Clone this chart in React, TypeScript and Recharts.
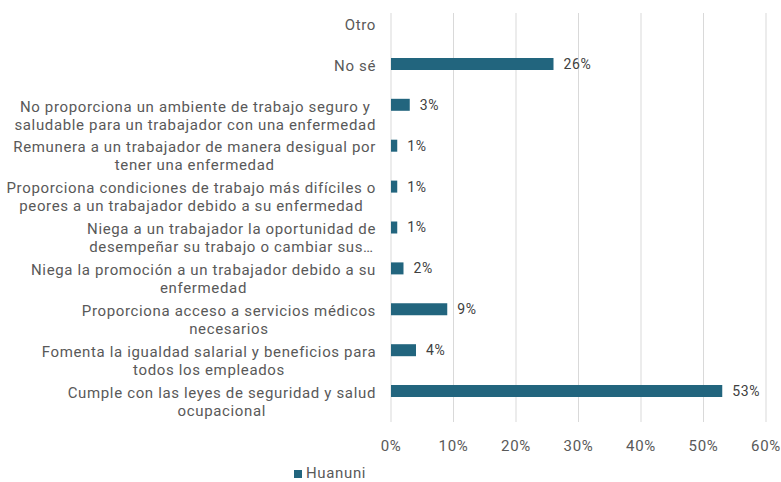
import React from 'react';
import { BarChart, Bar, XAxis, YAxis, CartesianGrid, Legend, LabelList } from 'recharts';

// Categories, top to bottom (line breaks as wrapped in the original)
const categories = [
  'Otro',
  'No sé',
  'No proporciona un ambiente de trabajo seguro y\nsaludable para un trabajador con una enfermedad',
  'Remunera a un trabajador de manera desigual por\ntener una enfermedad',
  'Proporciona condiciones de trabajo más difíciles o\npeores a un trabajador debido a su enfermedad',
  'Niega a un trabajador la oportunidad de\ndesempeñar su trabajo o cambiar sus…',
  'Niega la promoción a un trabajador debido a su\nenfermedad',
  'Proporciona acceso a servicios médicos\nnecesarios',
  'Fomenta la igualdad salarial y beneficios para\ntodos los empleados',
  'Cumple con las leyes de seguridad y salud\nocupacional',
];

// Huanuni, percent of answers
const huanuni = [null, 26, 3, 1, 1, 1, 2, 9, 4, 53];

// second (hidden) series of the source workbook
const hidden = [null, null, null, null, null, null, null, null, null, null];

const xTicks = [0, 10, 20, 30, 40, 50, 60];

const data = categories.map((name, i) => ({ name, huanuni: huanuni[i], hidden: hidden[i] }));

const BAR_COLOR = '#22657e';
const TEXT_COLOR = '#595959';
const FONT = 'Roboto, sans-serif';
const FONT_SIZE = 15;
const SPACING = 0.65;

let measureCtx: CanvasRenderingContext2D | null = null;
const measure = (s: string) => {
  if (!measureCtx) {
    measureCtx = document.createElement('canvas').getContext('2d');
  }
  if (!measureCtx) return s.length * 7.5;
  measureCtx.font = `${FONT_SIZE}px ${FONT}`;
  return measureCtx.measureText(s).width + s.length * SPACING;
};

// wrapped category label: lines centred on each other, block right-aligned at the axis,
// first line always sits above the band centre
const WrappedTick = (props: any) => {
  const { x, y, payload } = props;
  const lines = String(payload.value).split('\n');
  const blockWidth = Math.max(...lines.map(measure));
  const cx = x - blockWidth / 2;
  return (
    <g>
      {lines.map((line, i) => (
        <text
          key={i}
          x={cx}
          y={y - 9 + i * 18}
          dy="0.35em"
          textAnchor="middle"
          fill={TEXT_COLOR}
          fontSize={FONT_SIZE}
          fontFamily={FONT}
          letterSpacing={SPACING}
        >
          {line}
        </text>
      ))}
    </g>
  );
};

export default function App() {
  return (
    <div style={{ position: 'absolute', left: 0, top: 0, width: 781, height: 482, background: '#fff' }}>
      <BarChart
        width={781}
        height={482}
        data={data}
        layout="vertical"
        margin={{ top: 13, right: 15, left: 0, bottom: 2 }}
        barCategoryGap={4}
        barGap={9}
      >
        <CartesianGrid horizontal={false} stroke="#d9d9d9" />
        <XAxis
          type="number"
          domain={[0, 60]}
          ticks={xTicks}
          tickFormatter={(v) => `${v}%`}
          axisLine={false}
          tickLine={false}
          tickMargin={12}
          height={40}
          tick={{ fill: TEXT_COLOR, fontSize: FONT_SIZE, fontFamily: FONT, letterSpacing: SPACING }}
        />
        <YAxis
          type="category"
          dataKey="name"
          width={391}
          axisLine={false}
          tickLine={false}
          tickSize={6}
          tickMargin={9}
          interval={0}
          tick={<WrappedTick />}
        />
        <Legend
          verticalAlign="bottom"
          align="left"
          iconType="square"
          iconSize={8}
          wrapperStyle={{ left: 294, bottom: 0, fontFamily: FONT, fontSize: FONT_SIZE, letterSpacing: SPACING }}
          formatter={(value) => <span style={{ color: TEXT_COLOR }}>{value}</span>}
        />
        <Bar dataKey="huanuni" name="Huanuni" fill={BAR_COLOR} isAnimationActive={false}>
          <LabelList
            dataKey="huanuni"
            position="right"
            offset={10}
            formatter={(v: any) => (v == null ? '' : `${v}%`)}
            fill="#404040"
            fontSize={14}
            fontFamily={FONT}
            letterSpacing={SPACING}
          />
        </Bar>
        <Bar dataKey="hidden" name="serie2" fill="transparent" legendType="none" isAnimationActive={false} />
      </BarChart>
    </div>
  );
}
